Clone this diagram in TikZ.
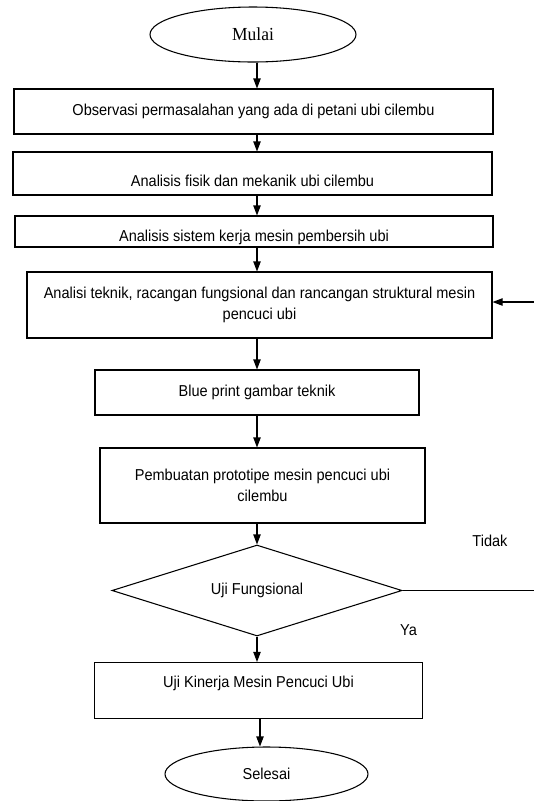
\documentclass[tikz,border=0pt]{standalone}
\usepackage{fontspec}
\setmainfont{Liberation Sans}[FakeStretch=0.92]
\newfontfamily\hurufserif{Liberation Serif}[FakeStretch=0.95]
\usetikzlibrary{shapes.geometric,arrows.meta}

\tikzset{
  kotak/.style={draw, rectangle, inner sep=0pt, line width=0.8pt},
  oval/.style={draw, ellipse, inner sep=0pt, line width=0.8pt},
  belah/.style={draw, diamond, aspect=3.2, inner sep=0pt, line width=0.8pt},
  panah/.style={-{Triangle[length=7.5pt,width=5.5pt]}, line width=0.8pt},
  garis/.style={line width=0.8pt}
}

\begin{document}
\begin{tikzpicture}[x=0.75pt,y=0.75pt,yscale=-1,xscale=1,font=\fontsize{11.85}{15.5}\selectfont]
\useasboundingbox (0,0) rectangle (534,801);

% Terminal Nodes
\node[oval, minimum width=154.5pt, minimum height=41.25pt, font=\hurufserif\fontsize{13.8}{16}\selectfont] (mulai) at (253,34.5) {Mulai};
\node[oval, minimum width=152.25pt, minimum height=40.5pt] (selesai) at (266.5,774) {Selesai};

% Process Nodes
\node[kotak, minimum width=359.25pt, minimum height=33.75pt] (observasi) at (253.5,111.5) {Observasi permasalahan yang ada di petani ubi cilembu};
\node[kotak, minimum width=359.25pt, minimum height=32.25pt, text height=19pt, text depth=0pt] (fisik) at (252.5,173.5) {Analisis fisik dan mekanik ubi cilembu};
\node[kotak, minimum width=358.5pt, minimum height=23.25pt, text height=14.5pt, text depth=0pt] (sistem) at (254,231.5) {Analisis sistem kerja mesin pembersih ubi};
\node[kotak, align=center, minimum width=348.75pt, minimum height=49.5pt] (teknik) at (259.5,305) {Analisi teknik, racangan fungsional dan rancangan struktural mesin\\ pencuci ubi};
\node[kotak, minimum width=243pt, minimum height=33.75pt] (blueprint) at (257,392.5) {Blue print gambar teknik};
\node[kotak, align=center, minimum width=243.75pt, minimum height=56.25pt] (prototipe) at (262.5,485.5) {Pembuatan prototipe mesin pencuci ubi\\ cilembu};

% Decision Node
\node[belah, minimum width=217.5pt, minimum height=68.25pt] (uji) at (257,590.5) {Uji Fungsional};
\node[kotak, minimum width=246pt, minimum height=42pt, text height=3pt, text depth=7.2pt] (kinerja) at (258.5,690.5) {Uji Kinerja Mesin Pencuci Ubi};

% Text Node
\node (tidak) at (490,541) {Tidak};
% Text Node
\node (ya) at (408.5,630) {Ya};

\coordinate (jalur) at (257,0);
\coordinate (jalurB) at (260,0);
\coordinate (tepiatas) at (534,302);

%Straight Lines
\draw[panah] (mulai.south -| jalur) -- (observasi.north -| jalur);
\draw[panah] (observasi.south -| jalur) -- (fisik.north -| jalur);
\draw[panah] (fisik.south -| jalur) -- (sistem.north -| jalur);
\draw[panah] (sistem.south -| jalur) -- (teknik.north -| jalur);
\draw[panah] (teknik.south -| jalur) -- (blueprint.north -| jalur);
\draw[panah] (blueprint.south -| jalur) -- (prototipe.north -| jalur);
\draw[panah] (prototipe.south -| jalur) -- (uji.north -| jalur);
\draw[panah] (uji.south -| jalur) -- (kinerja.north -| jalur);
\draw[panah] (kinerja.south -| jalurB) -- (selesai.north -| jalurB);

%Straight Lines (kembali)
\draw[garis] (uji.east) -- (uji.east -| tepiatas);
\draw[panah] (tepiatas) -- (tepiatas -| teknik.east);

\end{tikzpicture}
\end{document}
